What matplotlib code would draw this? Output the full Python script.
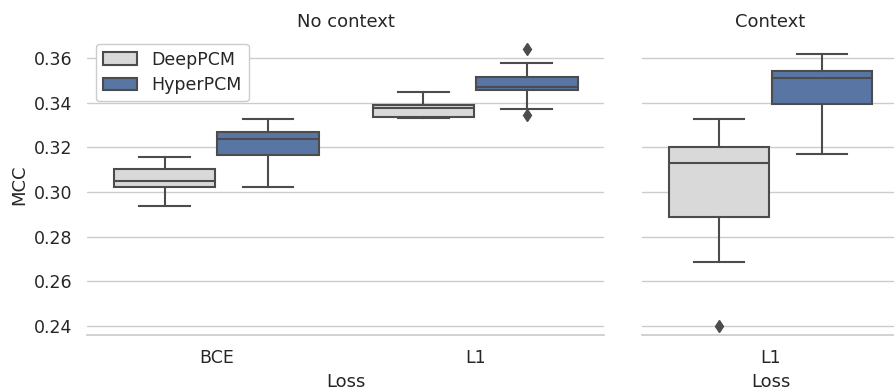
import matplotlib
matplotlib.use("Agg")
import matplotlib.pyplot as plt
from matplotlib.patches import Patch

# ---------------- data ----------------
hue_names = ["DeepPCM", "HyperPCM"]
panel_titles = ["No context", "Context"]
losses_nocontext = ["BCE", "L1"]
losses_context = ["L1"]

# No context: DeepPCM per loss
deep_nc_whislo = [0.2938, 0.3330]
deep_nc_q1 = [0.3023, 0.3338]
deep_nc_med = [0.3050, 0.3377]
deep_nc_q3 = [0.3104, 0.3389]
deep_nc_whishi = [0.3158, 0.3447]
deep_nc_fliers = [[], []]

# No context: HyperPCM per loss
hyper_nc_whislo = [0.3022, 0.3374]
hyper_nc_q1 = [0.3165, 0.3456]
hyper_nc_med = [0.3237, 0.3473]
hyper_nc_q3 = [0.3271, 0.3516]
hyper_nc_whishi = [0.3326, 0.3578]
hyper_nc_fliers = [[], [0.3640, 0.3344]]

# Context: DeepPCM
deep_c_whislo = [0.2686]
deep_c_q1 = [0.2890]
deep_c_med = [0.3131]
deep_c_q3 = [0.3204]
deep_c_whishi = [0.3329]
deep_c_fliers = [[0.2400]]

# Context: HyperPCM
hyper_c_whislo = [0.3172]
hyper_c_q1 = [0.3395]
hyper_c_med = [0.3513]
hyper_c_q3 = [0.3543]
hyper_c_whishi = [0.3618]
hyper_c_fliers = [[]]

yticks = [0.24, 0.26, 0.28, 0.30, 0.32, 0.34, 0.36]

# ---------------- style ----------------
colors = ["#d9d9d9", "#5875a4"]
gray = "#4c4c4c"
gridc = "#cccccc"
plt.rcParams["font.family"] = ["DejaVu Sans"]
plt.rcParams["text.color"] = "#262626"
plt.rcParams["axes.labelcolor"] = "#262626"
plt.rcParams["xtick.color"] = "#262626"
plt.rcParams["ytick.color"] = "#262626"

fig = plt.figure(figsize=(8.94, 3.90), dpi=100)
ax1 = fig.add_axes([0.0973, 0.1410, 0.6761 - 0.0973, 0.9103 - 0.1410])
ax2 = fig.add_axes([0.7181, 0.1410, 1.0056 - 0.7181, 0.9103 - 0.1410], sharey=ax1)


def mkstats(whislo, q1, med, q3, whishi, fliers):
    return [dict(whislo=a, q1=b, med=c, q3=d, whishi=e, fliers=f, mean=c)
            for a, b, c, d, e, f in zip(whislo, q1, med, q3, whishi, fliers)]


def draw(ax, cats, groups):
    n = len(groups)
    w = 0.8 / n
    for i, stats in enumerate(groups):
        pos = [k - 0.4 + w * (i + 0.5) for k in range(len(cats))]
        bw = w * 0.98
        ax.bxp(stats, positions=pos, widths=bw, capwidths=bw * 0.5,
               patch_artist=True, manage_ticks=False,
               boxprops=dict(facecolor=colors[i], edgecolor=gray, linewidth=1.5),
               whiskerprops=dict(color=gray, linewidth=1.5),
               capprops=dict(color=gray, linewidth=1.5),
               medianprops=dict(color=gray, linewidth=1.5),
               flierprops=dict(marker="d", markerfacecolor=gray, markeredgecolor=gray,
                               markersize=6, linestyle="none"))
    ax.set_xticks(range(len(cats)))
    ax.set_xticklabels(cats)
    ax.set_xlim(-0.5, len(cats) - 0.5)


draw(ax1, losses_nocontext, [
    mkstats(deep_nc_whislo, deep_nc_q1, deep_nc_med, deep_nc_q3, deep_nc_whishi, deep_nc_fliers),
    mkstats(hyper_nc_whislo, hyper_nc_q1, hyper_nc_med, hyper_nc_q3, hyper_nc_whishi, hyper_nc_fliers),
])
draw(ax2, losses_context, [
    mkstats(deep_c_whislo, deep_c_q1, deep_c_med, deep_c_q3, deep_c_whishi, deep_c_fliers),
    mkstats(hyper_c_whislo, hyper_c_q1, hyper_c_med, hyper_c_q3, hyper_c_whishi, hyper_c_fliers),
])

for ax, title in zip([ax1, ax2], panel_titles):
    ax.set_ylim(0.2360, 0.3704)
    ax.set_yticks(yticks)
    ax.set_axisbelow(True)
    ax.yaxis.grid(True, color=gridc, linewidth=1.0)
    ax.xaxis.grid(False)
    for s in ["left", "top", "right"]:
        ax.spines[s].set_visible(False)
    ax.spines["bottom"].set_color(gridc)
    ax.spines["bottom"].set_linewidth(1.25)
    ax.tick_params(axis="both", length=0, pad=10.4, labelsize=12.5)
    ax.set_xlabel("Loss", fontsize=13, labelpad=4)
    ax.set_title(title, fontsize=13, pad=6)
    ax.set_facecolor("white")

ax1.set_yticklabels([f"{t:.2f}" for t in yticks])
ax1.set_ylabel("MCC", fontsize=13)
ax2.tick_params(axis="y", labelleft=False)

handles = [Patch(facecolor=colors[i], edgecolor=gray, linewidth=1.5, label=hue_names[i])
           for i in range(2)]
leg = ax1.legend(handles=handles, loc="upper left", fontsize=12.5, frameon=True,
                 edgecolor=gridc, facecolor="white", framealpha=1.0, labelspacing=0.45)

fig.savefig("out.png", dpi=100, facecolor="white")
